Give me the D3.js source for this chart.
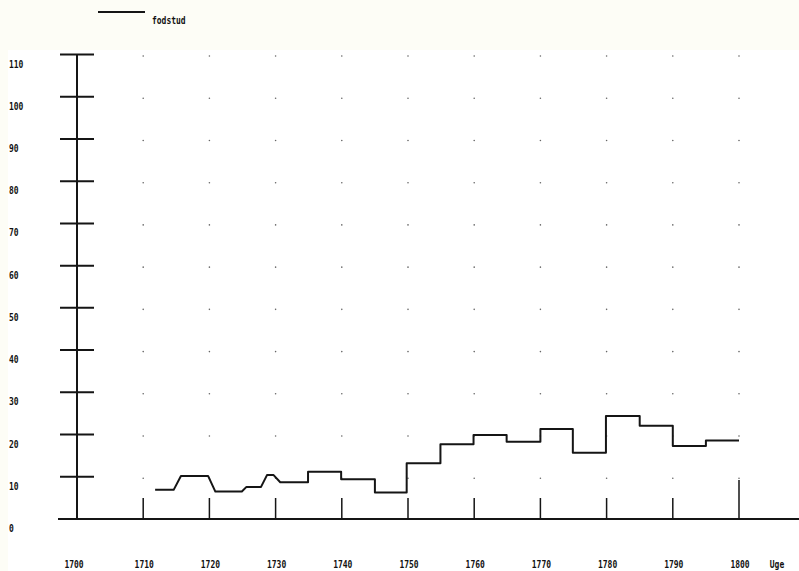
<!DOCTYPE html>
<html>
<head>
<meta charset="utf-8">
<script src="https://cdn.jsdelivr.net/npm/d3@7"></script>
<style>
  html, body { margin: 0; padding: 0; background: #fdfdf6; }
  svg { display: block; }
  text { font-family: "DejaVu Sans Mono", monospace; font-weight: bold; fill: #111; }
</style>
</head>
<body>
<svg id="chart" width="799" height="571"></svg>
<script>
// ---- data ----
const seriesName = "fodstud";
const xAxisTitle = "Uge";
const xTickYears = [1700, 1710, 1720, 1730, 1740, 1750, 1760, 1770, 1780, 1790, 1800];
const yTickValues = [0, 10, 20, 30, 40, 50, 60, 70, 80, 90, 100, 110];
const lineYears  = [1711.8, 1714.6, 1715.7, 1719.8, 1720.9, 1724.9, 1725.6, 1727.8, 1728.7, 1729.7, 1730.7, 1734.9, 1734.9, 1739.9, 1739.9, 1745, 1745, 1749.8, 1749.8, 1754.9, 1754.9, 1759.9, 1759.9, 1764.9, 1764.9, 1770, 1770, 1774.9, 1774.9, 1779.9, 1779.9, 1785, 1785, 1790, 1790, 1795, 1795, 1800];
const lineValues = [6.9, 6.9, 10.2, 10.2, 6.5, 6.5, 7.6, 7.6, 10.4, 10.4, 8.7, 8.7, 11.2, 11.2, 9.4, 9.4, 6.3, 6.3, 13.2, 13.2, 17.7, 17.7, 19.9, 19.9, 18.3, 18.3, 21.3, 21.3, 15.7, 15.7, 24.4, 24.4, 22.1, 22.1, 17.3, 17.3, 18.6, 18.6];

// ---- layout ----
const svg = d3.select("#chart");
svg.append("rect").attr("x", 8).attr("y", 50).attr("width", 791).attr("height", 521).attr("fill", "#ffffff");

const x = d3.scaleLinear().domain([1700, 1800]).range([77, 739]);
const y = d3.scaleLinear().domain([0, 110]).range([519, 54.5]);
const ink = "#151515";
const charW = 4.8;

function label(sel, str, px, py, anchor) {
  const t = sel.append("text").attr("x", px).attr("y", py)
    .attr("font-size", 11).attr("text-anchor", anchor || "start")
    .attr("textLength", str.length * charW).attr("lengthAdjust", "spacingAndGlyphs")
    .text(str);
  return t;
}

// grid dots
const dotG = svg.append("g");
xTickYears.slice(1).forEach(yr => {
  yTickValues.slice(1).forEach(v => {
    dotG.append("circle").attr("cx", x(yr)).attr("cy", y(v) + 1.5).attr("r", 0.8).attr("fill", "#666");
  });
});

// baseline (x axis)
svg.append("line").attr("x1", 58).attr("x2", 799).attr("y1", y(0)).attr("y2", y(0))
  .attr("stroke", ink).attr("stroke-width", 2);

// y axis line
svg.append("line").attr("x1", x(1700)).attr("x2", x(1700)).attr("y1", y(110)).attr("y2", y(0))
  .attr("stroke", ink).attr("stroke-width", 2);

// y ticks and labels
yTickValues.forEach(v => {
  if (v > 0) {
    svg.append("line").attr("x1", x(1700) - 17).attr("x2", x(1700) + 17)
      .attr("y1", y(v)).attr("y2", y(v)).attr("stroke", ink).attr("stroke-width", 2);
  }
  label(svg, String(v), 9, y(v) + 13);
});

// x ticks and labels
xTickYears.forEach(yr => {
  if (yr > 1700) {
    const h = yr === 1800 ? 39 : 21;
    svg.append("line").attr("x1", x(yr)).attr("x2", x(yr))
      .attr("y1", y(0)).attr("y2", y(0) - h).attr("stroke", ink).attr("stroke-width", 1.5);
  }
  label(svg, String(yr), x(yr) + (yr === 1700 ? -3 : 1), 568, "middle");
});
label(svg, xAxisTitle, 777, 568, "middle");

// series line
const pts = lineYears.map((yr, i) => [yr, lineValues[i]]);
const lineGen = d3.line().x(d => x(d[0])).y(d => y(d[1]));
svg.append("path").attr("d", lineGen(pts)).attr("fill", "none")
  .attr("stroke", ink).attr("stroke-width", 2).attr("stroke-linejoin", "round");

// legend
svg.append("line").attr("x1", 98).attr("x2", 145).attr("y1", 12).attr("y2", 12)
  .attr("stroke", ink).attr("stroke-width", 2);
label(svg, seriesName, 152, 24);
</script>
</body>
</html>
